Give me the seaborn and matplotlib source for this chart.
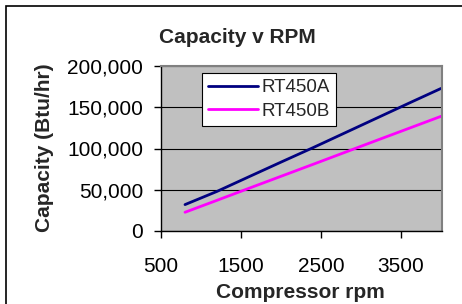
import pandas as pd
import matplotlib
matplotlib.use("Agg")
import matplotlib.pyplot as plt
import seaborn as sns
from matplotlib.ticker import FuncFormatter
from matplotlib.patches import Rectangle

# ==============================
# DADOS
# ==============================
rpm = [800, 1200, 1600, 2000, 2400, 2800, 3200, 3600, 4000]
cap_a = [32000, 48000, 65800, 83500, 101000, 119000, 137000, 155000, 172800]
cap_b = [22700, 37200, 51800, 66300, 80800, 95400, 110000, 124500, 139000]
series = ["RT450A", "RT450B"]
colors = {"RT450A": "#000080", "RT450B": "#FF00FF"}
x_ticks = [500, 1500, 2500, 3500]
y_ticks = [0, 50000, 100000, 150000, 200000]

df = pd.DataFrame({
    "rpm": rpm * 2,
    "cap": cap_a + cap_b,
    "serie": [series[0]] * len(rpm) + [series[1]] * len(rpm),
})

# ==============================
# ESTILO
# ==============================
sns.set_theme(style="white")
plt.rcParams["font.family"] = ["Liberation Sans", "DejaVu Sans"]

fig = plt.figure(figsize=(4.62, 3.04), dpi=100)
ax = fig.add_axes([161 / 462, 1 - 231 / 304, 281 / 462, 165 / 304])
ax.set_facecolor("#C0C0C0")

sns.lineplot(data=df, x="rpm", y="cap", hue="serie", palette=colors,
             linewidth=2.0, ax=ax, legend=True)

ax.set_xlim(500, 4012)
ax.set_ylim(0, 200000)
ax.set_xticks(x_ticks)
ax.set_yticks(y_ticks)
ax.yaxis.set_major_formatter(FuncFormatter(lambda v, p: f"{v:,.0f}"))
ax.grid(axis="y", color="black", linewidth=0.8)
ax.set_axisbelow(True)

for s in ["left", "bottom"]:
    ax.spines[s].set_color("black")
    ax.spines[s].set_linewidth(1.0)
for s in ["top", "right"]:
    ax.spines[s].set_color("#808080")
    ax.spines[s].set_linewidth(1.5)

ax.tick_params(axis="y", direction="out", length=5, width=1, pad=8,
               labelsize=15, colors="black", left=True)
ax.tick_params(axis="x", direction="out", length=5, width=1, pad=14,
               labelsize=15, colors="black", bottom=True)

ax.set_xlabel("Compressor rpm", fontsize=15, fontweight="bold")
ax.set_ylabel("Capacity (Btu/hr)", fontsize=15, fontweight="bold")
ax.xaxis.set_label_coords((300 - 161) / 281, (231 - 283) / 165)
ax.yaxis.set_label_coords((54 - 161) / 281, (231 - 148) / 165)

leg = ax.legend(loc="upper left", bbox_to_anchor=((202 - 161) / 281, (231 - 73) / 165),
                borderaxespad=0, fontsize=13.5, frameon=True, fancybox=False,
                edgecolor="black", framealpha=1, handlelength=2.65,
                handletextpad=0.2, labelspacing=0.35, borderpad=0.33, title=None)
leg.get_frame().set_linewidth(0.8)

fig.text(237 / 462, 1 - 43 / 304, "Capacity v RPM", ha="center", va="baseline",
         fontsize=15, fontweight="bold")

# moldura do gráfico
fig.patches.append(Rectangle((6 / 462, -0.2), 1.2, 1.2 - 6 / 304,
                             transform=fig.transFigure, fill=False,
                             edgecolor="black", linewidth=1.2))

fig.savefig("out.png", dpi=100, facecolor="white")
